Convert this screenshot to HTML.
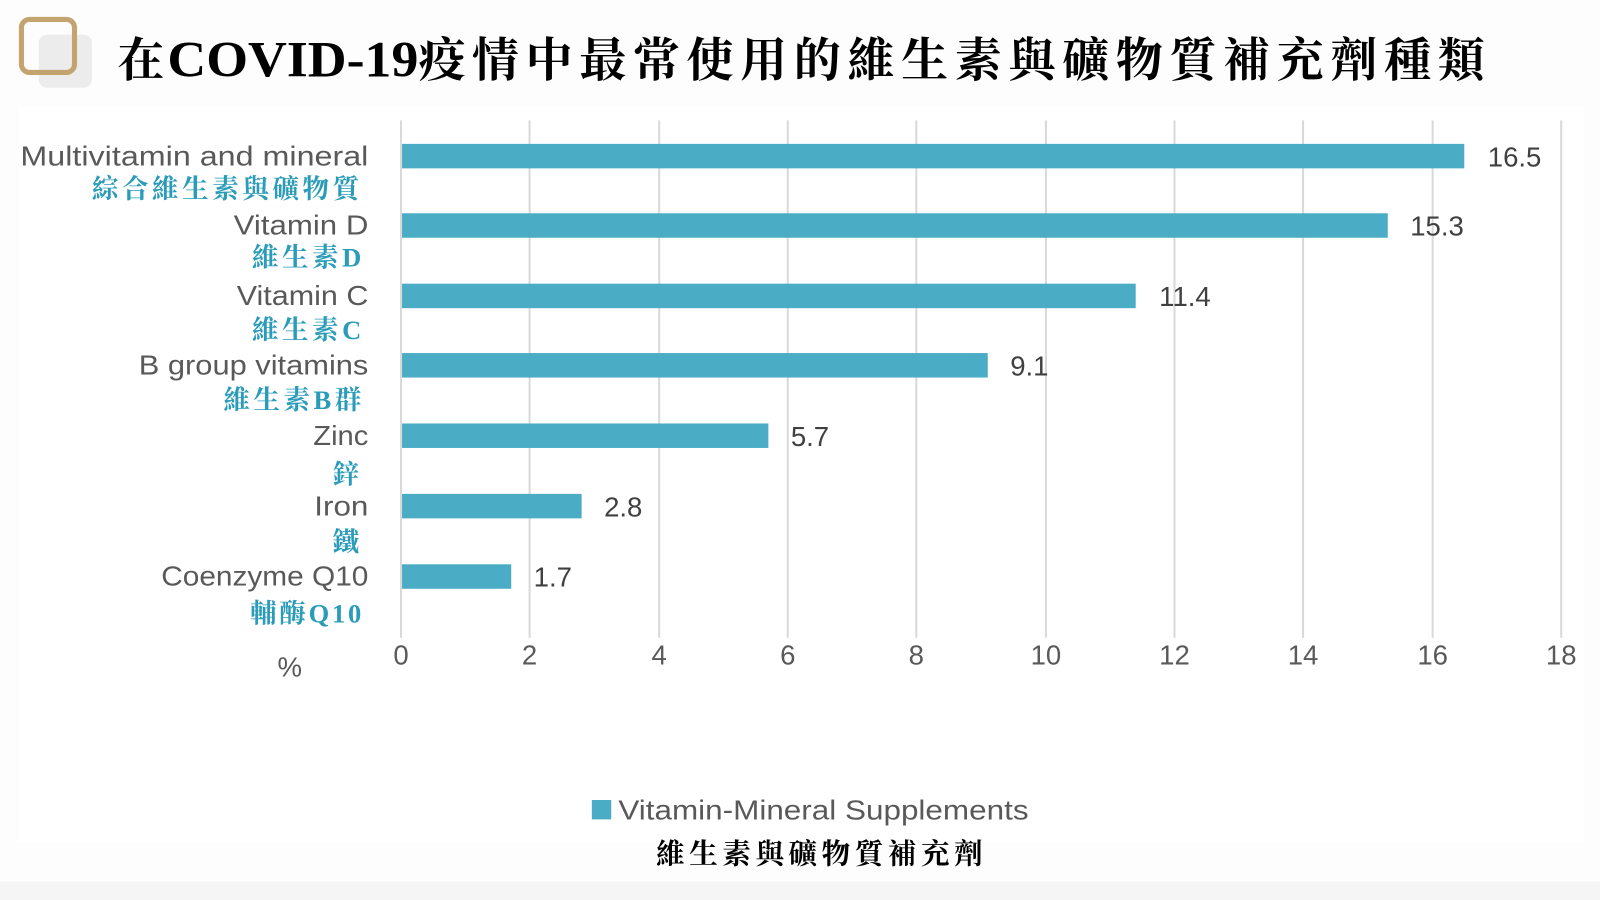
<!DOCTYPE html>
<html><head><meta charset="utf-8"><style>
html,body{margin:0;padding:0;background:#fff;}
body{width:1600px;height:900px;position:relative;overflow:hidden;}
svg{position:absolute;left:0;top:0;}
</style></head><body>
<svg width="1600" height="900" viewBox="0 0 1568 882" preserveAspectRatio="none" xmlns="http://www.w3.org/2000/svg">
<rect width="1568" height="882" fill="#fdfdfd"/>
<rect x="18" y="105" width="1535" height="720" fill="#ffffff"/>
<rect x="0" y="864" width="1568" height="18" fill="#f5f5f5"/>
<rect x="38" y="34" width="52" height="52" rx="8" fill="#ececec"/>
<rect x="21" y="19" width="52" height="52" rx="8" fill="none" stroke="#c4a46e" stroke-width="5"/>
<g font-family="'Liberation Serif','Noto Serif CJK SC',serif" font-weight="bold" font-size="46" fill="#000">
<text x="115" y="75">在</text>
<text x="164" y="75" textLength="246" lengthAdjust="spacingAndGlyphs" font-size="50">COVID-19</text>
<text x="410" y="75" textLength="1045" lengthAdjust="spacing">疫情中最常使用的維生素與礦物質補充劑種類</text>
</g>
<g stroke="#d9d9d9" stroke-width="2">
<line x1="393" y1="118" x2="393" y2="625"/><line x1="519" y1="118" x2="519" y2="625"/><line x1="646" y1="118" x2="646" y2="625"/><line x1="772" y1="118" x2="772" y2="625"/><line x1="898" y1="118" x2="898" y2="625"/><line x1="1025" y1="118" x2="1025" y2="625"/><line x1="1151" y1="118" x2="1151" y2="625"/><line x1="1277" y1="118" x2="1277" y2="625"/><line x1="1404" y1="118" x2="1404" y2="625"/><line x1="1530" y1="118" x2="1530" y2="625"/>
</g>
<g fill="#4bacc6">
<rect x="394" y="141" width="1041" height="24"/>
<rect x="394" y="209" width="966" height="24"/>
<rect x="394" y="278" width="719" height="24"/>
<rect x="394" y="346" width="574" height="24"/>
<rect x="394" y="415" width="359" height="24"/>
<rect x="394" y="484" width="176" height="24"/>
<rect x="394" y="553" width="107" height="24"/>
</g>
<g font-family="'Liberation Sans',sans-serif" font-size="27" fill="#404040">
<text x="1458" y="163">16.5</text><text x="1382" y="231">15.3</text><text x="1136" y="300">11.4</text><text x="990" y="368">9.1</text><text x="775" y="437">5.7</text><text x="592" y="506">2.8</text><text x="523" y="575">1.7</text>
</g>
<g font-family="'Liberation Sans',sans-serif" font-size="27" fill="#595959">
<text x="20" y="162" textLength="341" lengthAdjust="spacingAndGlyphs">Multivitamin and mineral</text>
<text x="229" y="230" textLength="132" lengthAdjust="spacingAndGlyphs">Vitamin D</text>
<text x="232" y="299" textLength="129" lengthAdjust="spacingAndGlyphs">Vitamin C</text>
<text x="136" y="367" textLength="225" lengthAdjust="spacingAndGlyphs">B group vitamins</text>
<text x="307" y="436" textLength="54" lengthAdjust="spacingAndGlyphs">Zinc</text>
<text x="308" y="505" textLength="53" lengthAdjust="spacingAndGlyphs">Iron</text>
<text x="158" y="574" textLength="203" lengthAdjust="spacingAndGlyphs">Coenzyme Q10</text>
</g>
<g font-family="'Liberation Serif','Noto Serif CJK SC',serif" font-weight="bold" font-size="26" fill="#2a9bb8">
<text x="90" y="194" textLength="262" lengthAdjust="spacing">綜合維生素與礦物質</text>
<text x="247" y="261" textLength="107" lengthAdjust="spacing">維生素D</text>
<text x="247" y="332" textLength="107" lengthAdjust="spacing">維生素C</text>
<text x="219" y="401" textLength="135" lengthAdjust="spacing">維生素B群</text>
<text x="326" y="474">鋅</text>
<text x="326" y="540">鐵</text>
<text x="245" y="610" textLength="109" lengthAdjust="spacing">輔酶Q10</text>
</g>
<g font-family="'Liberation Sans',sans-serif" font-size="27" fill="#595959" text-anchor="middle">
<text x="393" y="651">0</text><text x="519" y="651">2</text><text x="646" y="651">4</text><text x="772" y="651">6</text><text x="898" y="651">8</text><text x="1025" y="651">10</text><text x="1151" y="651">12</text><text x="1277" y="651">14</text><text x="1404" y="651">16</text><text x="1530" y="651">18</text>
<text x="284" y="663">%</text>
</g>
<rect x="580" y="784" width="19" height="19" fill="#4bacc6"/>
<text x="606" y="803" textLength="402" lengthAdjust="spacingAndGlyphs" font-family="'Liberation Sans',sans-serif" font-size="27" fill="#595959">Vitamin-Mineral Supplements</text>
<text x="643" y="846" textLength="320" lengthAdjust="spacing" font-family="'Liberation Serif','Noto Serif CJK SC',serif" font-weight="bold" font-size="28" fill="#000">維生素與礦物質補充劑</text>
</svg>
</body></html>
